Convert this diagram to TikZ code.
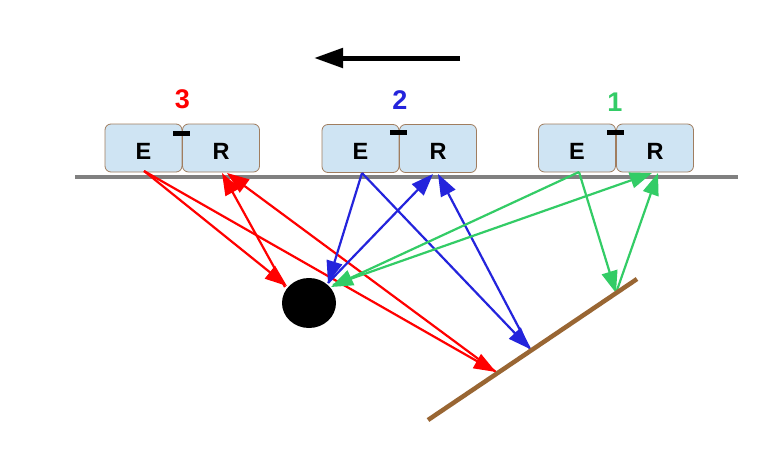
\documentclass[tikz,border=0pt]{standalone}
\usepackage{fontspec}
\setmainfont{Liberation Sans}
\usetikzlibrary{arrows.meta,shapes.geometric}
\definecolor{boxfill}{RGB}{207,228,243}
\definecolor{boxdraw}{RGB}{160,125,95}
\definecolor{lgray}{RGB}{128,128,128}
\definecolor{cred}{RGB}{255,0,0}
\definecolor{cblue}{RGB}{36,36,220}
\definecolor{cgreen}{RGB}{51,204,102}
\definecolor{cbrown}{RGB}{153,102,51}
\tikzset{
  unitbox/.style={draw=boxdraw, line width=0.8pt, fill=boxfill, rounded corners=6pt,
    minimum width=77pt, minimum height=48pt, inner sep=0pt},
  lett/.style={font=\fontsize{23.5}{24}\selectfont\bfseries, text=black, inner sep=0pt},
  numlab/.style={font=\fontsize{27}{27}\selectfont\bfseries, inner sep=0pt},
  ray/.style={line width=2.2pt, -{Triangle[length=22pt,width=16pt]}},
  dashbar/.style={fill=black, minimum width=17pt, minimum height=5pt, inner sep=0pt}
}
\begin{document}
\begin{tikzpicture}[x=1pt,y=-1pt]
\useasboundingbox (0,0) rectangle (771,458);
\fill[white] (0,0) rectangle (771,458);

% direction arrow
\coordinate (dirA) at (460,58);
\coordinate (dirB) at (314,58);
\draw[line width=5pt, -{Triangle[length=29pt,width=19pt]}] (dirA) -- (dirB);

% units
\node[unitbox] (E3) at (143.5,148) {};
\node[unitbox] (R3) at (221,148) {};
\node[unitbox] (E2) at (360.5,148.5) {};
\node[unitbox] (R2) at (438,148.5) {};
\node[unitbox] (E1) at (577,148) {};
\node[unitbox] (R1) at (655,148) {};
\foreach \n in {E3,E2,E1}{\node[lett] at ([yshift=-3pt]\n.center) {E};}
\foreach \n in {R3,R2,R1}{\node[lett] at ([yshift=-3pt]\n.center) {R};}
\node[dashbar] (d3) at (181.5,133) {};
\node[dashbar] (d2) at (398.5,132.5) {};
\node[dashbar] (d1) at (615.5,132.5) {};

% labels
\node[numlab, text=cred] (l3) at (182.5,99) {3};
\node[numlab, text=cblue] (l2) at (400,100) {2};
\node[numlab, text=cgreen] (l1) at (615,102) {1};

% ground line
\coordinate (g1) at (75,177);
\coordinate (g2) at (738,177);
\draw[lgray, line width=4pt] (g1) -- (g2);

% object and plane
\node[fill=black, ellipse, minimum width=54pt, minimum height=50pt, inner sep=0pt] (obj) at (309,303) {};
\coordinate (p1) at (428,420);
\coordinate (p2) at (637,279);

% hit points
\coordinate (e3s) at (144,171);
\coordinate (cr) at (287,286);
\coordinate (crs) at (285,287);
\coordinate (br) at (496,372);
\coordinate (r3a) at (222,173);
\coordinate (r3b) at (227,173);

\coordinate (e2s) at (362,173);
\coordinate (cb) at (328,283);
\coordinate (bb) at (530,349);
\coordinate (r2a) at (433,174);
\coordinate (r2b) at (438,174);

\coordinate (e1s) at (579,172);
\coordinate (cg) at (331,287);
\coordinate (cgs) at (333,285);
\coordinate (bg) at (616,293);
\coordinate (r1a) at (652,173);
\coordinate (r1b) at (658,173);

% red rays
\draw[ray, cred] (e3s) -- (cr);
\draw[ray, cred] (crs) -- (r3a);
\draw[ray, cred] (e3s) -- (br);
\draw[ray, cred] (br) -- (r3b);
% blue rays
\draw[ray, cblue] (e2s) -- (cb);
\draw[ray, cblue] (cb) -- (r2a);
\draw[ray, cblue] (e2s) -- (bb);
\draw[ray, cblue] (bb) -- (r2b);
% green rays
\draw[ray, cgreen] (e1s) -- (cg);
\draw[ray, cgreen] (cgs) -- (r1a);
\draw[ray, cgreen] (e1s) -- (bg);
\draw[ray, cgreen] (bg) -- (r1b);

\draw[cbrown, line width=4.5pt] (p1) -- (p2);
\end{tikzpicture}
\end{document}
